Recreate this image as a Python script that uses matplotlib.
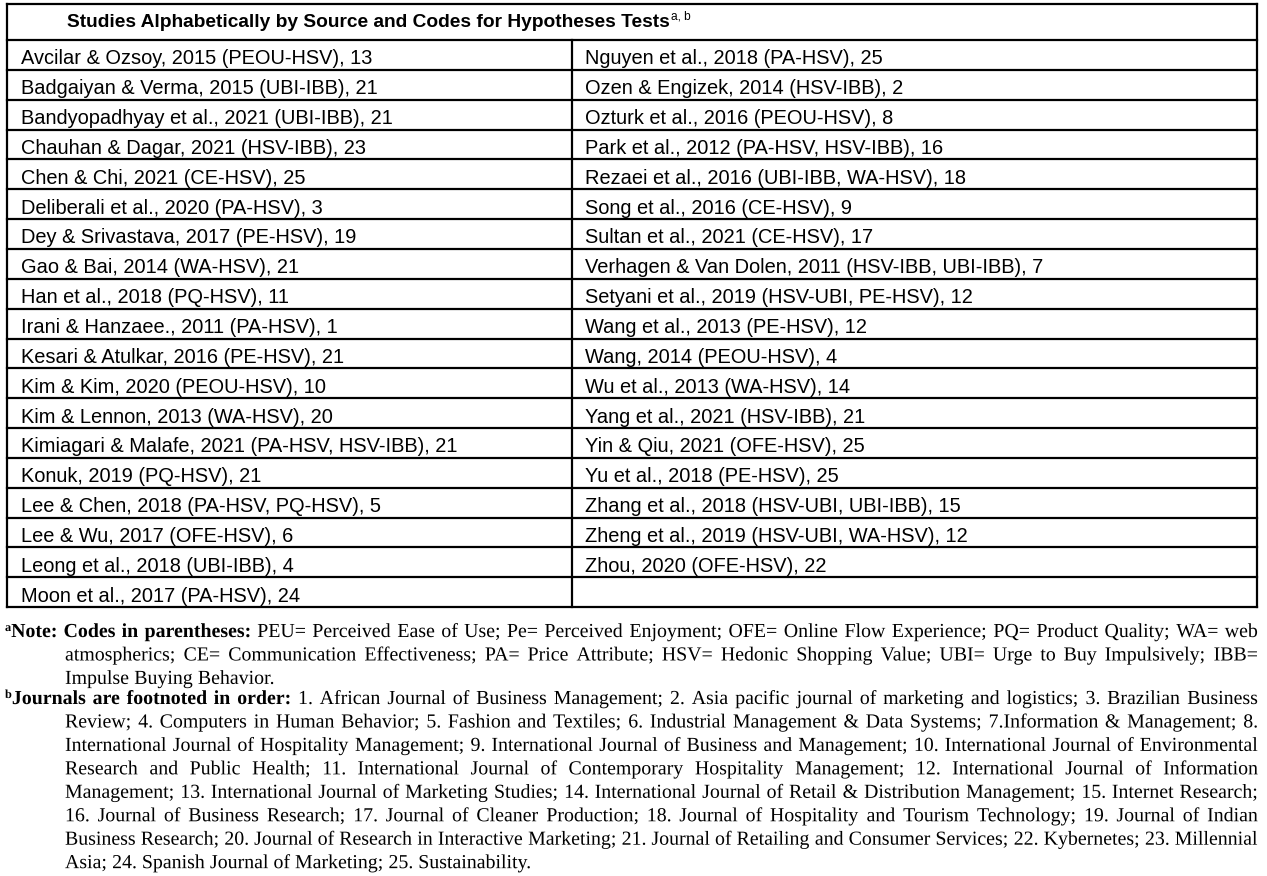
import matplotlib
matplotlib.use("Agg")
import matplotlib.pyplot as plt
import matplotlib.patheffects as pe

W, H = 1267, 876

title = "Studies Alphabetically by Source and Codes for Hypotheses Tests"
title_sup = "a, b"

left_col = [
    "Avcilar & Ozsoy, 2015 (PEOU-HSV), 13",
    "Badgaiyan & Verma, 2015 (UBI-IBB), 21",
    "Bandyopadhyay et al., 2021 (UBI-IBB), 21",
    "Chauhan & Dagar, 2021 (HSV-IBB), 23",
    "Chen & Chi, 2021 (CE-HSV), 25",
    "Deliberali et al., 2020 (PA-HSV), 3",
    "Dey & Srivastava, 2017 (PE-HSV), 19",
    "Gao & Bai, 2014 (WA-HSV), 21",
    "Han et al., 2018 (PQ-HSV), 11",
    "Irani & Hanzaee., 2011 (PA-HSV), 1",
    "Kesari & Atulkar, 2016 (PE-HSV), 21",
    "Kim & Kim, 2020 (PEOU-HSV), 10",
    "Kim & Lennon, 2013 (WA-HSV), 20",
    "Kimiagari & Malafe, 2021 (PA-HSV, HSV-IBB), 21",
    "Konuk, 2019 (PQ-HSV), 21",
    "Lee & Chen, 2018 (PA-HSV, PQ-HSV), 5",
    "Lee & Wu, 2017 (OFE-HSV), 6",
    "Leong et al., 2018 (UBI-IBB), 4",
    "Moon et al., 2017 (PA-HSV), 24",
]

right_col = [
    "Nguyen et al., 2018 (PA-HSV), 25",
    "Ozen & Engizek, 2014 (HSV-IBB), 2",
    "Ozturk et al., 2016 (PEOU-HSV), 8",
    "Park et al., 2012 (PA-HSV, HSV-IBB), 16",
    "Rezaei et al., 2016 (UBI-IBB, WA-HSV), 18",
    "Song et al., 2016 (CE-HSV), 9",
    "Sultan et al., 2021 (CE-HSV), 17",
    "Verhagen & Van Dolen, 2011 (HSV-IBB, UBI-IBB), 7",
    "Setyani et al., 2019 (HSV-UBI, PE-HSV), 12",
    "Wang et al., 2013 (PE-HSV), 12",
    "Wang, 2014 (PEOU-HSV), 4",
    "Wu et al., 2013 (WA-HSV), 14",
    "Yang et al., 2021 (HSV-IBB), 21",
    "Yin & Qiu, 2021 (OFE-HSV), 25",
    "Yu et al., 2018 (PE-HSV), 25",
    "Zhang et al., 2018 (HSV-UBI, UBI-IBB), 15",
    "Zheng et al., 2019 (HSV-UBI, WA-HSV), 12",
    "Zhou, 2020 (OFE-HSV), 22",
    "",
]

note_a_lines = [
    "Codes in parentheses: PEU= Perceived Ease of Use; Pe= Perceived Enjoyment; OFE= Online Flow Experience; PQ= Product Quality; WA= web",
    "atmospherics; CE= Communication Effectiveness; PA= Price Attribute; HSV= Hedonic Shopping Value; UBI= Urge to Buy Impulsively; IBB=",
    "Impulse Buying Behavior.",
]
note_a_lead = "Note:"
note_a_bold = "Codes in parentheses:"

note_b_lines = [
    "Journals are footnoted in order: 1. African Journal of Business Management; 2. Asia pacific journal of marketing and logistics; 3. Brazilian Business",
    "Review; 4. Computers in Human Behavior; 5. Fashion and Textiles; 6. Industrial Management & Data Systems; 7.Information & Management; 8.",
    "International Journal of Hospitality Management; 9. International Journal of Business and Management; 10. International Journal of Environmental",
    "Research and Public Health; 11. International Journal of Contemporary Hospitality Management; 12. International Journal of Information",
    "Management; 13. International Journal of Marketing Studies; 14. International Journal of Retail & Distribution Management; 15. Internet Research;",
    "16. Journal of Business Research; 17. Journal of Cleaner Production; 18. Journal of Hospitality and Tourism Technology; 19. Journal of Indian",
    "Business Research; 20. Journal of Research in Interactive Marketing; 21. Journal of Retailing and Consumer Services; 22. Kybernetes; 23. Millennial",
    "Asia; 24. Spanish Journal of Marketing; 25. Sustainability.",
]
note_b_bold = "Journals are footnoted in order:"

fig = plt.figure(figsize=(W / 100, H / 100), dpi=100)
ax = fig.add_axes([0, 0, 1, 1])
ax.set_xlim(0, W)
ax.set_ylim(H, 0)
ax.axis("off")
renderer = fig.canvas.get_renderer()

SANS = "Liberation Sans"
SERIF = "Liberation Serif"
FS_TAB = 14.4
FS_HEAD = 13.8
FS_NOTE = 14.3
PE = [pe.Normal()]

# table geometry
x_l, x_m, x_r = 6.5, 571.5, 1257.0
y_top, y_head = 3.5, 40.0
row_h = 29.85
n_rows = len(left_col)
y_bot = y_head + row_h * n_rows
lw = 1.6
ax.plot([x_l, x_r], [y_top, y_top], color="black", lw=lw, solid_capstyle="projecting")
for i in range(n_rows + 1):
    y = y_head + row_h * i
    ax.plot([x_l, x_r], [y, y], color="black", lw=lw, solid_capstyle="projecting")
ax.plot([x_l, x_l], [y_top, y_bot], color="black", lw=lw)
ax.plot([x_r, x_r], [y_top, y_bot], color="black", lw=lw)
ax.plot([x_m, x_m], [y_head, y_bot], color="black", lw=lw)

# title
t = ax.text(67, 27, title, fontsize=FS_HEAD, fontweight="bold", family=SANS, va="baseline", ha="left")
bb = t.get_window_extent(renderer)
ax.text(67 + bb.width + 1, 19.5, title_sup, fontsize=FS_HEAD * 0.62, family=SANS, va="baseline", ha="left")

for i, (a, b) in enumerate(zip(left_col, right_col)):
    yb = y_head + row_h * i + 24.3
    ax.text(21, yb, a, fontsize=FS_TAB, family=SANS, va="baseline", ha="left")
    if b:
        ax.text(585, yb, b, fontsize=FS_TAB, family=SANS, va="baseline", ha="left")


def width_of(txt, bold, size):
    tt = ax.text(0, 0, txt, fontsize=size, fontweight="bold" if bold else "normal", family=SERIF)
    w = tt.get_window_extent(renderer).width
    tt.remove()
    return w


def draw_line(words, x0, x1, yb, justify):
    """words: list of list of segments (text, bold, sup)"""
    widths = []
    for word in words:
        wsum = 0
        for txt, bold, sup in word:
            wsum += width_of(txt, bold, FS_NOTE * (0.62 if sup else 1))
        widths.append(wsum)
    space = width_of("a b", False, FS_NOTE) - width_of("ab", False, FS_NOTE)
    if justify and len(words) > 1:
        gap = (x1 - x0 - sum(widths)) / (len(words) - 1)
    else:
        gap = space
    x = x0
    for word, wd in zip(words, widths):
        xx = x
        for txt, bold, sup in word:
            size = FS_NOTE * (0.62 if sup else 1)
            ax.text(xx, yb - (6 if sup else 0), txt, fontsize=size,
                    fontweight="bold" if bold else "normal", family=SERIF,
                    va="baseline", ha="left", path_effects=PE)
            xx += width_of(txt, bold, size)
        x += wd + gap


def make_words(line, bold_prefix=""):
    words = []
    rest = line
    if bold_prefix and line.startswith(bold_prefix):
        for w in bold_prefix.split():
            words.append([(w, True, False)])
        rest = line[len(bold_prefix):]
    for w in rest.split():
        words.append([(w, False, False)])
    return words


XR = 1258
X_IND = 65
line_h = 23.45

# note a
ya = 637
words = [[("a", True, True), (note_a_lead, True, False)]] + make_words(note_a_lines[0], note_a_bold)
draw_line(words, 5, XR, ya, True)
for k, ln in enumerate(note_a_lines[1:], start=1):
    draw_line(make_words(ln), X_IND, XR, ya + line_h * k, k < len(note_a_lines) - 1)

# note b
yb0 = 704
wb = make_words(note_b_lines[0], note_b_bold)
wb[0] = [("b", True, True)] + wb[0]
draw_line(wb, 5, XR, yb0, True)
for k, ln in enumerate(note_b_lines[1:], start=1):
    draw_line(make_words(ln), X_IND, XR, yb0 + line_h * k, k < len(note_b_lines) - 1)

fig.savefig("out.png", dpi=100)
